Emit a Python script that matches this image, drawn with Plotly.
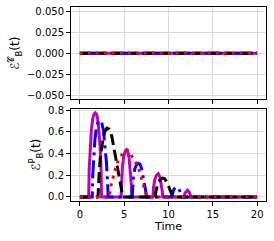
import plotly.graph_objects as go
from plotly.subplots import make_subplots

# ---- data ----
t_flat = [0, 20]
c_magenta = [0, 0]
c_blue = [0, 0]
c_black = [0, 0]
c_red = [0, 0]

t_magenta = [0, 1.0, 1.05, 1.15, 1.3, 1.45, 1.6, 1.75, 1.9, 2.05, 2.2, 2.32, 2.4, 2.45,
             4.65, 4.7, 4.8, 4.95, 5.1, 5.25, 5.4, 5.55, 5.7, 5.8, 5.85,
             8.25, 8.3, 8.45, 8.65, 8.85, 9.05, 9.2, 9.3, 9.35,
             11.75, 11.85, 12.0, 12.15, 12.3, 12.45, 12.55, 20]
p_magenta = [0, 0, 0.25, 0.45, 0.62, 0.72, 0.765, 0.775, 0.76, 0.7, 0.58, 0.42, 0.22, 0,
             0, 0.15, 0.28, 0.37, 0.42, 0.435, 0.42, 0.36, 0.25, 0.12, 0,
             0, 0.08, 0.16, 0.2, 0.215, 0.18, 0.12, 0.05, 0,
             0, 0.035, 0.055, 0.062, 0.05, 0.025, 0, 0]

t_blue = [0, 1.4, 1.45, 1.55, 1.7, 1.85, 2.05, 2.25, 2.45, 2.65, 2.85, 3.0, 3.1, 3.2,
          5.9, 5.95, 6.05, 6.2, 6.4, 6.6, 6.8, 7.0, 7.2, 7.4, 7.55,
          10.35, 10.45, 10.6, 10.8, 10.95, 11.15, 11.3, 11.45, 11.5, 20]
p_blue = [0, 0, 0.2, 0.38, 0.53, 0.63, 0.69, 0.705, 0.69, 0.62, 0.48, 0.32, 0.17, 0,
          0, 0.1, 0.19, 0.26, 0.3, 0.31, 0.3, 0.25, 0.17, 0.08, 0,
          0, 0.04, 0.07, 0.088, 0.09, 0.08, 0.055, 0.02, 0, 0]

t_black = [0, 2.05, 2.15, 2.3, 2.55, 2.8, 3.05, 3.3, 3.6, 3.9, 4.2, 4.5, 4.75, 4.85,
           8.5, 8.6, 8.8, 9.05, 9.3, 9.55, 9.8, 10.05, 10.3, 10.5, 20]
p_black = [0, 0, 0.18, 0.36, 0.5, 0.6, 0.635, 0.625, 0.56, 0.43, 0.3, 0.17, 0.06, 0,
           0, 0.06, 0.12, 0.16, 0.175, 0.17, 0.14, 0.09, 0.04, 0, 0]

t_red = [0, 3.3, 3.5, 3.8, 4.1, 4.4, 4.7, 5.0, 5.3, 5.6, 5.9, 6.2, 6.5, 6.8, 7.1, 7.35, 7.55, 20]
p_red = [0, 0, 0.1, 0.2, 0.29, 0.35, 0.39, 0.42, 0.435, 0.42, 0.37, 0.33, 0.29, 0.22, 0.13, 0.05, 0, 0]

x_ticks = [0, 5, 10, 15, 20]
top_ticks = [-0.05, -0.025, 0, 0.025, 0.05]
bot_ticks = [0, 0.2, 0.4, 0.6, 0.8]

styles = [
    ("#bf00bf", "solid"),
    ("#0000ff", "18px,5px,3px,5px"),
    ("#000000", "11px,5px"),
    ("#ff0000", "3px,5px"),
]

fig = make_subplots(rows=2, cols=1, shared_xaxes=True, vertical_spacing=0.047)

top_series = [c_magenta, c_blue, c_black, c_red]
bot_series = [(t_magenta, p_magenta), (t_blue, p_blue), (t_black, p_black), (t_red, p_red)]

for (col, dash), ys in zip(styles, top_series):
    fig.add_trace(go.Scatter(x=t_flat, y=ys, mode="lines",
                             line=dict(color=col, dash=dash, width=3),
                             showlegend=False), row=1, col=1)
for (col, dash), (xs, ys) in zip(styles, bot_series):
    fig.add_trace(go.Scatter(x=xs, y=ys, mode="lines",
                             line=dict(color=col, dash=dash, width=3),
                             showlegend=False), row=2, col=1)

axis_common = dict(showline=True, mirror=True, linecolor="black", linewidth=1,
                   ticks="outside", ticklen=4, tickcolor="black", automargin=False,
                   showgrid=True, gridcolor="#dadada", gridwidth=1, zeroline=False,
                   tickfont=dict(family="DejaVu Sans", size=10, color="black"))

fig.update_xaxes(range=[-1, 21], tickvals=x_ticks, **axis_common)
fig.update_xaxes(showticklabels=False, row=1, col=1)
fig.update_xaxes(title=dict(text="Time", font=dict(family="DejaVu Sans", size=11, color="black"),
                            standoff=2), row=2, col=1)
fig.update_yaxes(**axis_common)
fig.update_yaxes(range=[-0.055, 0.055], tickvals=top_ticks, tickformat=".3f",
                 title=dict(text="ℰ<sup>𝒞</sup><sub>B</sub>(t)",
                            font=dict(family="DejaVu Sans", size=12, color="black"), standoff=4),
                 row=1, col=1)
fig.update_yaxes(range=[-0.037, 0.815], tickvals=bot_ticks, tickformat=".1f",
                 title=dict(text="ℰ<sup>P</sup><sub>B</sub>(t)",
                            font=dict(family="DejaVu Sans", size=12, color="black"), standoff=4),
                 row=2, col=1)

fig.update_layout(width=274, height=241, margin=dict(l=71, r=8, t=7, b=40),
                  plot_bgcolor="white", paper_bgcolor="white",
                  font=dict(family="DejaVu Sans", color="black"))

fig.write_html("out.html", config={"displayModeBar": False},
               post_script="document.body.style.margin='0';document.body.style.overflow='hidden';")
